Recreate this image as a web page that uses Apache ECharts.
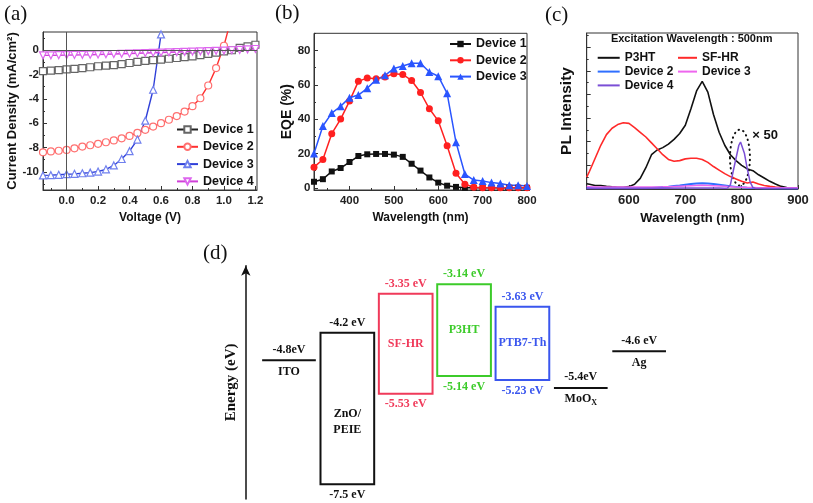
<!DOCTYPE html>
<html><head><meta charset="utf-8">
<script src="https://cdn.jsdelivr.net/npm/echarts@6/dist/echarts.min.js"></script>
<style>html,body{margin:0;padding:0;background:#fff}#c{width:813px;height:503px}</style>
</head><body><div id="c"></div>
<script>
// ---------- Panel (a): J–V curves ----------
const voltage = [-0.15,-0.1,-0.05,0,0.05,0.1,0.15,0.2,0.25,0.3,0.35,0.4,0.45,0.5,0.55,0.6,0.65,0.7,0.75,0.8,0.85,0.9,0.95,1.0,1.05,1.1,1.15,1.2];
const jvDevice1 = [-1.72,-1.68,-1.63,-1.58,-1.53,-1.48,-1.4,-1.32,-1.27,-1.22,-1.15,-1.05,-0.95,-0.88,-0.82,-0.78,-0.7,-0.64,-0.57,-0.5,-0.4,-0.3,-0.2,-0.1,0.0,0.2,0.32,0.45];
const jvDevice2 = [-8.4,-8.33,-8.27,-8.2,-8.07,-7.93,-7.82,-7.7,-7.57,-7.42,-7.25,-7.05,-6.8,-6.55,-6.28,-6.0,-5.72,-5.42,-5.05,-4.6,-3.95,-2.9,-1.47,0.37,2.8,null,null,null];
const jvDevice3 = [-10.3,-10.28,-10.25,-10.2,-10.17,-10.12,-10.07,-9.98,-9.8,-9.48,-8.95,-8.3,-7.35,-5.8,-3.25,1.3,null,null,null,null,null,null,null,null,null,null,null,null];
const jvDevice4 = [-0.42,-0.42,-0.41,-0.4,-0.39,-0.38,-0.37,-0.35,-0.33,-0.31,-0.29,-0.27,-0.25,-0.23,-0.21,-0.19,-0.17,-0.15,-0.13,-0.11,-0.09,-0.07,-0.05,-0.03,0.0,0.03,0.07,0.1];
const aTicksX = [0,0.2,0.4,0.6,0.8,1.0,1.2];
const aMinorX = [-0.1,0.1,0.3,0.5,0.7,0.9,1.1];
const aTicksY = [0,-2,-4,-6,-8,-10];
const aMinorY = [1,-1,-3,-5,-7,-9,-11];

// ---------- Panel (b): EQE ----------
const eqeWavelength = [320,340,360,380,400,420,440,460,480,500,520,540,560,580,600,620,640,660,680,700,720,740,760,780,800];
const eqeDevice1 = [3.5,5,9.5,11.5,15,18.5,19.5,19.7,19.7,19.3,18,14,10,6,3,1.2,0.5,0,0,0,0,0,0,0,0];
const eqeDevice2 = [12,16.5,31.5,40,50.5,62,64,63.5,64.5,66.5,66,62.5,55.5,46,39,24.5,8.5,2,0.3,0,0,0,0,0,0];
const eqeDevice3 = [20,36,43.5,47.5,52.5,54,58,63,65.5,69.5,71,72.5,72.5,67.5,65,55,26.5,8,4.5,4,3,2.5,1.5,1.5,1];
const bTicksX = [400,500,600,700,800];
const bMinorX = [350,450,550,650,750];
const bTicksY = [0,20,40,60,80];
const bMinorY = [10,30,50,70,90];

// ---------- Panel (c): PL spectra ----------
const plWavelength = [525,530,540,550,560,570,580,590,600,610,620,630,640,650,660,670,680,690,700,710,720,730,740,750,760,770,780,790,800,810,820,830,840,850,860,870,880,890,900];
const plP3HT = [0.45,0.4,0.3,0.3,0.22,0.18,0.15,0.15,0.2,0.4,0.9,1.8,2.9,3.3,3.5,3.8,4.2,4.7,5.4,6.8,8.3,9.1,8.2,6.3,4.8,3.7,2.9,2.4,2.0,1.7,1.55,1.2,0.93,0.65,0.42,0.22,0.12,0.08,0.06];
const plSFHR = [1.0,1.5,2.6,3.7,4.6,5.14,5.45,5.6,5.55,5.2,4.8,4.4,3.9,3.4,2.9,2.5,2.35,2.4,2.55,2.6,2.6,2.5,2.25,1.9,1.6,1.3,1.05,0.85,0.65,0.5,0.6,0.42,0.3,0.22,0.17,0.13,0.1,0.09,0.08];
const plDevice2 = [0.08,0.08,0.08,0.08,0.08,0.08,0.08,0.08,0.08,0.08,0.08,0.08,0.08,0.12,0.16,0.2,0.25,0.3,0.36,0.42,0.46,0.48,0.46,0.42,0.36,0.3,0.24,0.18,0.14,0.11,0.09,0.08,0.07,0.07,0.07,0.07,0.07,0.07,0.07];
const plDevice3 = [0.22,0.2,0.16,0.16,0.16,0.16,0.16,0.16,0.16,0.16,0.16,0.16,0.16,0.17,0.18,0.2,0.22,0.24,0.26,0.28,0.3,0.31,0.3,0.28,0.26,0.23,0.2,0.17,0.15,0.13,0.12,0.11,0.1,0.1,0.1,0.1,0.1,0.1,0.1];
const plDevice4Wavelength = [525,600,700,760,770,775,780,785,790,795,798,800,805,810,815,820,825,850,900];
const plDevice4 = [0.05,0.05,0.08,0.08,0.07,0.08,0.35,1.5,2.6,3.7,3.97,3.9,3.0,1.7,0.6,0.12,0.05,0.05,0.04];
const cTicksX = [600,700,800,900];
const cMinorX = [550,650,750,850];
const cTicksY = [0,2,4,6,8,10,12];
const cMinorY = [1,3,5,7,9,11,13];
const zoomNote = {center:[797,2.66], radius:[17.7,2.37], text:'× 50', textAt:[819,4.5]};

// ---------- Panel (d): energy levels ----------
const layerNames = ['ITO','ZnO/\nPEIE','SF-HR','P3HT','PTB7-Th','MoO','Ag'];
const upperLevel = [-4.8,-4.2,-3.35,-3.14,-3.63,-5.4,-4.6];
const lowerLevel = [null,-7.5,-5.53,-5.14,-5.23,null,null];
const upperText = ['-4.8eV','-4.2 eV','-3.35 eV','-3.14 eV','-3.63 eV','-5.4eV','-4.6 eV'];
const lowerText = ['','-7.5 eV','-5.53 eV','-5.14 eV','-5.23 eV','',''];
const layerColors = ['#111','#111','#f03a5a','#3ccb2a','#3a56ee','#111','#111'];

const SANS = '"Liberation Sans", Arial, sans-serif';
const SERIF = '"Liberation Serif", "Times New Roman", serif';

function axes(gridIndex, min, max, major, minor, o) {
  const main = {
    type:'value', gridIndex, min, max, position:o.pos,
    axisLine:{show:true, onZero:false, lineStyle:{color:'#333', width:1}},
    axisTick:{show:true, inside:true, length:4, customValues:major, lineStyle:{color:'#333'}},
    axisLabel:{show:o.labels!==false, customValues:major, formatter:o.fmt, fontFamily:SANS, fontWeight:'bold',
      fontSize:o.fs||11.5, color:'#222', margin:o.margin||4},
    splitLine:{show:false},
    name:o.name, nameLocation:'middle', nameGap:o.nameGap,
    nameTextStyle:{fontFamily:SANS, fontWeight:'bold', fontSize:o.nameFs||12, color:'#111'}
  };
  const mn = {
    type:'value', gridIndex, min, max, position:o.pos,
    axisLine:{show:false, onZero:false},
    axisTick:{show:true, inside:true, length:2, customValues:minor, lineStyle:{color:'#333'}},
    axisLabel:{show:false}, splitLine:{show:false}
  };
  return [main, mn];
}

const xAxes = [
  ...axes(0,-0.15,1.21,aTicksX,aMinorX,{pos:'bottom', fmt:v=>v.toFixed(1), name:'Voltage (V)', nameGap:22, margin:4.5}),
  ...axes(1,320,800,bTicksX,bMinorX,{pos:'bottom', name:'Wavelength (nm)', nameGap:22, margin:4.5}),
  ...axes(2,525,900,cTicksX,cMinorX,{pos:'bottom', name:'Wavelength (nm)', nameGap:22.5, fs:13, nameFs:13, margin:4.5}),
  {type:'value', gridIndex:3, min:-0.74, max:7, show:false}
];
const yAxes = [
  ...axes(0,-11.5,1.5,aTicksY,aMinorY,{pos:'left', name:'Current Density (mA/cm²)', nameGap:23, nameFs:13, margin:4}),
  ...axes(1,-1.3,90,bTicksY,bMinorY,{pos:'left', name:'EQE (%)', nameGap:20, nameFs:14, margin:3.5}),
  ...axes(2,0,13.2,cTicksY,cMinorY,{pos:'left', labels:false, name:'PL Intensity', nameGap:12, nameFs:15.5}),
  {type:'value', gridIndex:3, min:-7.82, max:-2.738,
    axisLine:{show:true, onZero:false, symbol:['none','arrow'], symbolSize:[7,10], lineStyle:{color:'#111', width:1.5}},
    axisTick:{show:false}, axisLabel:{show:false}, splitLine:{show:false},
    name:'Energy (eV)', nameLocation:'middle', nameGap:7,
    nameTextStyle:{fontFamily:SERIF, fontWeight:'bold', fontSize:15, color:'#111'}}
];

const pair = (xs, ys) => xs.map((x,i)=>[x, ys[i]]);

function jvSeries(name, ys, symbol, lineColor, markColor, extra) {
  return Object.assign({
    name, type:'line', xAxisIndex:0, yAxisIndex:0, data:pair(voltage, ys),
    symbol, symbolSize:7, showAllSymbol:true, clip:true,
    lineStyle:{color:lineColor, width:1.4},
    itemStyle:{color:'#fff', borderColor:markColor, borderWidth:1.2},
    emphasis:{disabled:true}, z:3
  }, extra||{});
}
function eqeSeries(name, ys, symbol, color, size) {
  return {name, type:'line', xAxisIndex:2, yAxisIndex:2, data:pair(eqeWavelength, ys),
    symbol, symbolSize:size, showAllSymbol:true,
    lineStyle:{color, width:1.5}, itemStyle:{color}, emphasis:{disabled:true}};
}
function plSeries(name, xs, ys, color, width) {
  return {name, type:'line', xAxisIndex:4, yAxisIndex:4, data:pair(xs, ys), symbol:'none',
    lineStyle:{color, width}, itemStyle:{color}, emphasis:{disabled:true}};
}

const levelSeries = {
  type:'custom', xAxisIndex:6, yAxisIndex:6, silent:true,
  data: upperLevel.map((u,i)=>[i, u, lowerLevel[i]===null ? u : lowerLevel[i]]),
  renderItem(params, api) {
    const i = params.dataIndex;
    const x = api.value(0), top = api.value(1), bot = api.value(2);
    const hw = 0.46;
    const p1 = api.coord([x-hw, top]), p2 = api.coord([x+hw, bot]);
    const cx = (p1[0]+p2[0])/2;
    const col = layerColors[i];
    const font = 'bold 12px ' + SERIF;
    const kids = [];
    if (lowerLevel[i] !== null) {
      kids.push({type:'rect', shape:{x:p1[0], y:p1[1], width:p2[0]-p1[0], height:p2[1]-p1[1]},
        style:{fill:'none', stroke:col, lineWidth:2}});
      kids.push({type:'text', style:{text:upperText[i], x:cx, y:p1[1]-10, fill:col, font, align:'center', verticalAlign:'middle'}});
      kids.push({type:'text', style:{text:lowerText[i], x:cx, y:p2[1]+10.5, fill:col, font, align:'center', verticalAlign:'middle'}});
      const multi = layerNames[i].indexOf('\n') >= 0;
      const frac = multi ? 0.587 : 0.5;
      kids.push({type:'text', style:{text:layerNames[i], x:cx, y:p1[1]+(p2[1]-p1[1])*frac, fill:col, font,
        lineHeight:16.3, align:'center', verticalAlign:'middle'}});
    } else {
      kids.push({type:'line', shape:{x1:p1[0], y1:p1[1], x2:p2[0], y2:p1[1]}, style:{stroke:col, lineWidth:2}});
      kids.push({type:'text', style:{text:upperText[i], x:cx, y:p1[1]-10.5, fill:col, font, align:'center', verticalAlign:'middle'}});
      if (layerNames[i] === 'MoO') {
        kids.push({type:'text', style:{text:'{n|MoO}{s|X}', x:cx, y:p1[1]+11.5, align:'center', verticalAlign:'middle',
          rich:{n:{fontFamily:SERIF, fontWeight:'bold', fontSize:12, fill:col},
                s:{fontFamily:SERIF, fontWeight:'bold', fontSize:8, fill:col, padding:[7,0,0,0]}}}});
      } else {
        kids.push({type:'text', style:{text:layerNames[i], x:cx, y:p1[1]+11.3, fill:col, font, align:'center', verticalAlign:'middle'}});
      }
    }
    return {type:'group', children:kids};
  }
};

const noteSeries = {
  type:'custom', xAxisIndex:4, yAxisIndex:4, silent:true, data:[zoomNote.center],
  renderItem(params, api) {
    const c = api.coord(zoomNote.center);
    const s = api.size(zoomNote.radius);
    const t = api.coord(zoomNote.textAt);
    return {type:'group', children:[
      {type:'ellipse', shape:{cx:c[0], cy:c[1], rx:s[0], ry:s[1]},
        style:{fill:'none', stroke:'#111', lineWidth:2, lineDash:[0.5,4.5], lineCap:'round'}},
      {type:'text', style:{text:zoomNote.text, x:t[0], y:t[1], fill:'#111', font:'bold 13px '+SANS, align:'left', verticalAlign:'middle'}}
    ]};
  }
};

const fmt = n => n.split('|')[1];
const legendBase = (o) => Object.assign({orient:'vertical', selectedMode:false, formatter:fmt,
  textStyle:{fontFamily:SANS, fontWeight:'bold', fontSize:12.5, color:'#111', lineHeight:14}}, o);
const cLegendText = {fontFamily:SANS, fontWeight:'bold', fontSize:12, color:'#111', lineHeight:13};

const option = {
  animation:false,
  backgroundColor:'#fff',
  textStyle:{fontFamily:SANS},
  grid:[
    {left:43, top:32, width:214, height:158, show:true, borderColor:'#333', borderWidth:1},
    {left:314, top:33.3, width:213, height:156.7, show:true, borderColor:'#333', borderWidth:1},
    {left:586.7, top:33, width:211.3, height:156, show:true, borderColor:'#333', borderWidth:1},
    {left:245.8, top:265.7, width:451.7, height:233.3, show:false}
  ],
  xAxis:xAxes, yAxis:yAxes,
  legend:[
    legendBase({data:['a|Device 1','a|Device 2','a|Device 3','a|Device 4'], left:171, top:117.5, itemWidth:21, itemHeight:8, itemGap:3.3}),
    legendBase({data:['b|Device 1','b|Device 2','b|Device 3'], left:444, top:32, itemWidth:21, itemHeight:8, itemGap:2.3}),
    legendBase({data:['c|P3HT','c|Device 2','c|Device 4'], left:592.7, top:46.3, icon:'rect', itemWidth:22, itemHeight:2, itemGap:0.8,
      textStyle:cLegendText}),
    legendBase({data:['c|SF-HR','c|Device 3'], left:673, top:46.3, icon:'rect', itemWidth:19, itemHeight:2, itemGap:0.8,
      textStyle:cLegendText})
  ],
  graphic:[
    {type:'text', x:4, y:14, style:{text:'(a)', font:'21px '+SERIF, fill:'#111', verticalAlign:'middle'}},
    {type:'text', x:275, y:13.7, style:{text:'(b)', font:'21px '+SERIF, fill:'#111', verticalAlign:'middle'}},
    {type:'text', x:545, y:15, style:{text:'(c)', font:'21px '+SERIF, fill:'#111', verticalAlign:'middle'}},
    {type:'text', x:203, y:253.8, style:{text:'(d)', font:'21px '+SERIF, fill:'#111', verticalAlign:'middle'}},
    {type:'text', x:691.7, y:39, style:{text:'Excitation Wavelength : 500nm', font:'bold 11px '+SANS, fill:'#111', align:'center', verticalAlign:'middle'}}
  ],
  series:[
    jvSeries('a|Device 1', jvDevice1, 'rect', '#222', '#666'),
    jvSeries('a|Device 2', jvDevice2, 'circle', '#ff3030', '#ff7070'),
    jvSeries('a|Device 3', jvDevice3, 'triangle', '#3040d8', '#7080ee'),
    jvSeries('a|Device 4', jvDevice4, 'triangle', '#d040d8', '#dd66ee', {symbolRotate:180,
      markLine:{silent:true, symbol:'none', label:{show:false}, lineStyle:{color:'#555', width:1, type:'solid'},
        data:[{xAxis:0},{yAxis:0}]}}),
    eqeSeries('b|Device 1', eqeDevice1, 'rect', '#111', 6),
    eqeSeries('b|Device 2', eqeDevice2, 'circle', '#ff2020', 7),
    eqeSeries('b|Device 3', eqeDevice3, 'triangle', '#2a55ff', 8),
    plSeries('c|P3HT', plWavelength, plP3HT, '#111', 1.6),
    plSeries('c|SF-HR', plWavelength, plSFHR, '#ff2a2a', 1.6),
    plSeries('c|Device 2', plWavelength, plDevice2, '#2f6fff', 2),
    plSeries('c|Device 3', plWavelength, plDevice3, '#ee66ee', 1.5),
    plSeries('c|Device 4', plDevice4Wavelength, plDevice4, '#7b4fd6', 1.5),
    noteSeries,
    levelSeries
  ]
};
const chart = echarts.init(document.getElementById('c'));
chart.setOption(option);
</script>
</body></html>
